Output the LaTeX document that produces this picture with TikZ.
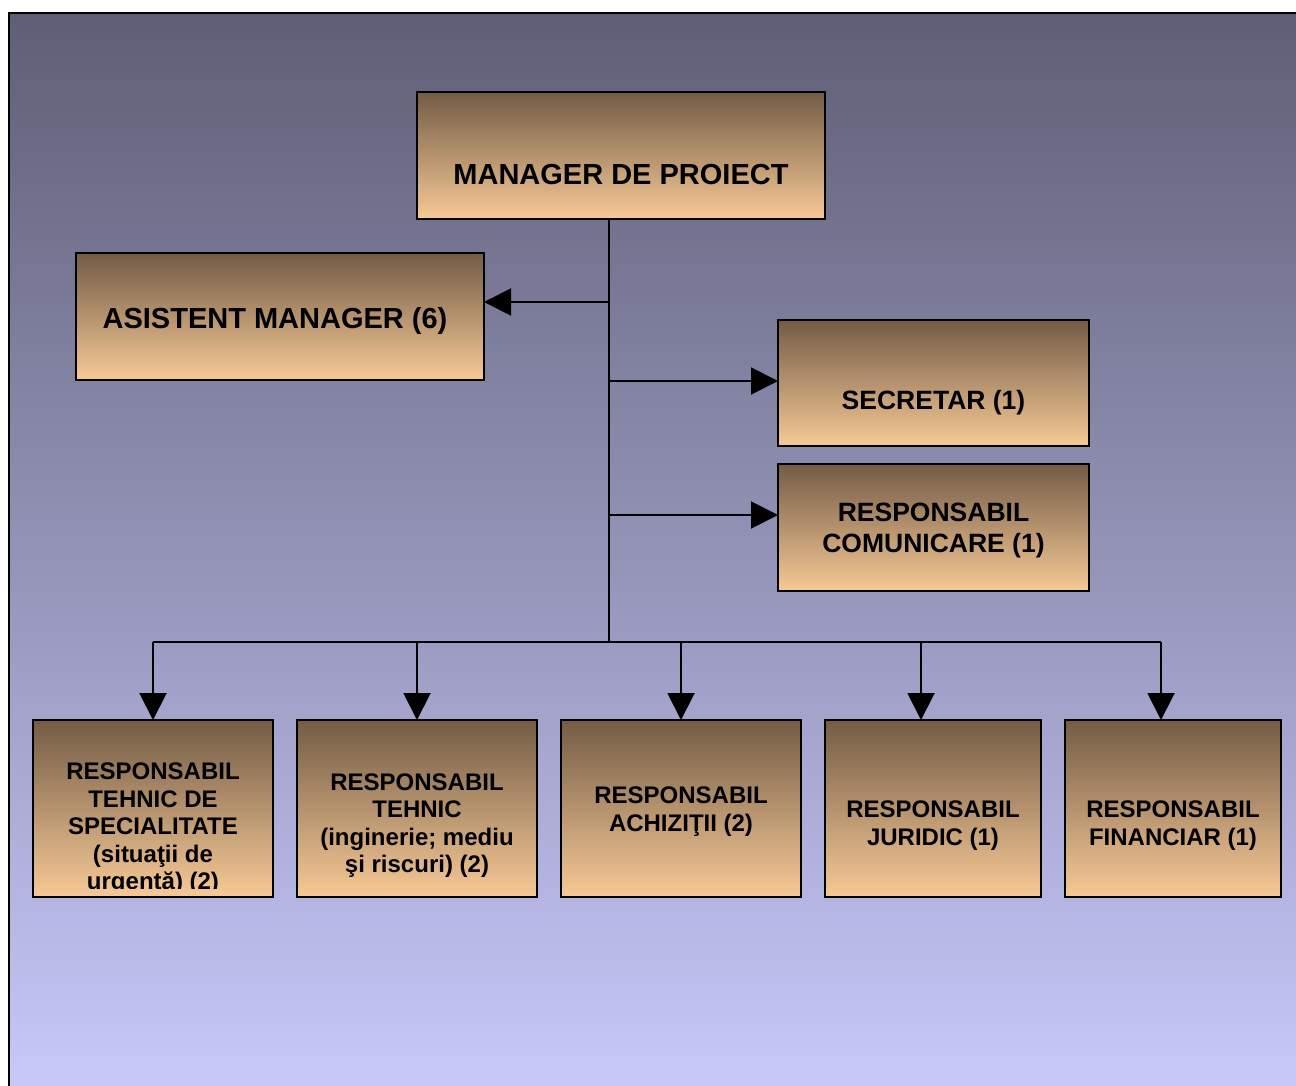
\documentclass[tikz,border=0pt]{standalone}
\usepackage{fontspec}
\setmainfont{Liberation Sans}
\usetikzlibrary{arrows.meta}
\definecolor{bgtop}{HTML}{5E5E75}
\definecolor{bgbot}{HTML}{C8C8FA}
\definecolor{boxtop}{HTML}{735C46}
\definecolor{boxbot}{HTML}{F7C996}
\tikzset{
  box/.style={draw=black, line width=2pt, shading=axis, top color=boxtop, bottom color=boxbot,
    rectangle, inner sep=0pt, outer sep=0pt},
  lbl/.style={font=\bfseries, text=black, inner sep=0pt, align=center},
  conn/.style={line width=2pt, draw=black},
  arr/.style={conn, -{Triangle[length=27pt,width=27pt]}}
}
\begin{document}
\begin{tikzpicture}[x=1pt,y=-1pt]
\useasboundingbox (0,0) rectangle (1296,1086);
% background
\shade[top color=bgtop, bottom color=bgbot] (9,13) rectangle (1300,1090);
\draw[line width=2pt] (1300,13) -- (9,13) -- (9,1090);

% boxes
\node[box, minimum width=408pt, minimum height=127pt] (mgr) at (621,155.5) {};
\node[box, minimum width=408pt, minimum height=127pt] (asist) at (280,316.5) {};
\node[box, minimum width=311pt, minimum height=126pt] (secr) at (933.5,383) {};
\node[box, minimum width=311pt, minimum height=127pt] (comm) at (933.5,527.5) {};
\node[box, minimum width=240pt, minimum height=177pt] (b1) at (153,808.5) {};
\node[box, minimum width=240pt, minimum height=177pt] (b2) at (417,808.5) {};
\node[box, minimum width=240pt, minimum height=177pt] (b3) at (681,808.5) {};
\node[box, minimum width=216pt, minimum height=177pt] (b4) at (933,808.5) {};
\node[box, minimum width=216pt, minimum height=177pt] (b5) at (1173,808.5) {};

% labels
\node[lbl, anchor=base, font=\bfseries\fontsize{29}{33}\selectfont] (tmgr) at (621,184.4) {MANAGER DE PROIECT};
\node[lbl, anchor=base, font=\bfseries\fontsize{29}{33}\selectfont] (tasist) at (275,328) {ASISTENT MANAGER (6)};
\node[lbl, anchor=base, font=\bfseries\fontsize{26.5}{31}\selectfont] (tsecr) at (933.5,409) {SECRETAR (1)};
\node[lbl, font=\bfseries\fontsize{26.5}{31}\selectfont] (tcomm) at (933.5,530.5) {RESPONSABIL\\COMUNICARE (1)};
\begin{scope}
\clip (33,720) rectangle (273,888);
\node[lbl, font=\bfseries\fontsize{24}{27.5}\selectfont] (tb1) at (153,829) {RESPONSABIL\\TEHNIC DE\\SPECIALITATE\\(situaţii de\\urgentă) (2)};
\end{scope}
\node[lbl, font=\bfseries\fontsize{24}{27.5}\selectfont] (tb2) at (417,825.5) {RESPONSABIL\\TEHNIC\\(inginerie; mediu\\şi riscuri) (2)};
\node[lbl, font=\bfseries\fontsize{24}{27.5}\selectfont] (tb3) at (681,811.5) {RESPONSABIL\\ACHIZIŢII (2)};
\node[lbl, font=\bfseries\fontsize{24}{27.5}\selectfont] (tb4) at (933,825.5) {RESPONSABIL\\JURIDIC (1)};
\node[lbl, font=\bfseries\fontsize{24}{27.5}\selectfont] (tb5) at (1173,825.5) {RESPONSABIL\\FINANCIAR (1)};

% connectors
\coordinate (bus) at (609,642);
\coordinate (ja) at (609,302);
\coordinate (js) at (609,381);
\coordinate (jc) at (609,515);
\coordinate (bl) at (153,642);
\coordinate (br) at (1161,642);
\coordinate (d2) at (417,642);
\coordinate (d3) at (681,642);
\coordinate (d4) at (921,642);
\draw[conn] (mgr.south -| bus) -- (bus);
\draw[arr] (ja) -- (ja -| asist.east);
\draw[arr] (js) -- (js -| secr.west);
\draw[arr] (jc) -- (jc -| comm.west);
\draw[conn] (bl) -- (br);
\draw[arr] (bl) -- (bl |- b1.north);
\draw[arr] (d2) -- (d2 |- b2.north);
\draw[arr] (d3) -- (d3 |- b3.north);
\draw[arr] (d4) -- (d4 |- b4.north);
\draw[arr] (br) -- (br |- b5.north);
\end{tikzpicture}
\end{document}
